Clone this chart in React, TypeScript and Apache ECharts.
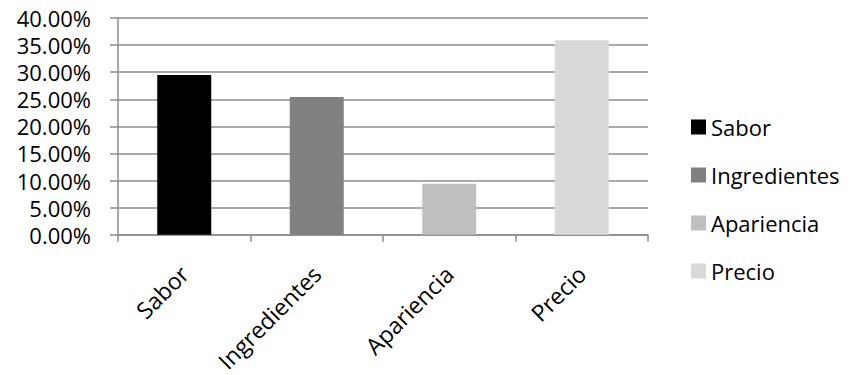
import React, { useEffect, useRef } from "react";
import * as echarts from "echarts";

// Share of responses per attribute (percent)
const categories = ["Sabor", "Ingredientes", "Apariencia", "Precio"];
const values = [29.5, 25.4, 9.4, 35.9];
const colors = ["#000000", "#808080", "#bfbfbf", "#d9d9d9"];
const yTicks = { min: 0, max: 40, interval: 5 };

const FONT = "'Open Sans', 'Liberation Sans', sans-serif";

export default function App() {
  const ref = useRef<HTMLDivElement>(null);

  useEffect(() => {
    if (!ref.current) return;
    const chart = echarts.init(ref.current, undefined, { renderer: "svg" });

    // one series per category so each bar gets its own legend entry;
    // stacked on a shared key so every bar stays centred on its category
    const series = categories.map((name, i) => ({
      name,
      type: "bar" as const,
      stack: "total",
      barWidth: 54,
      itemStyle: { color: colors[i] },
      data: categories.map((_, j) => (j === i ? values[i] : "-")),
    }));

    chart.setOption({
      animation: false,
      backgroundColor: "#ffffff",
      textStyle: { fontFamily: FONT },
      grid: { left: 118, right: 205, top: 18, bottom: 140, containLabel: false },
      legend: {
        orient: "vertical",
        left: 686,
        top: 110,
        icon: "rect",
        itemWidth: 15,
        itemHeight: 15,
        itemGap: 24,
        data: categories,
        textStyle: { fontFamily: FONT, fontSize: 22, color: "#000000", lineHeight: 24 },
      },
      xAxis: {
        type: "category",
        data: categories,
        axisLine: { show: true, lineStyle: { color: "#8c8c8c", width: 1.5 } },
        axisTick: { show: true, alignWithLabel: false, length: 7, lineStyle: { color: "#8c8c8c", width: 1.5 } },
        axisLabel: {
          rotate: 45,
          interval: 0,
          margin: 35,
          fontFamily: FONT,
          fontSize: 23,
          color: "#000000",
        },
        splitLine: { show: false },
      },
      yAxis: {
        type: "value",
        min: yTicks.min,
        max: yTicks.max,
        interval: yTicks.interval,
        axisLine: { show: true, lineStyle: { color: "#8c8c8c", width: 1.5 } },
        axisTick: { show: true, length: 8, lineStyle: { color: "#8c8c8c", width: 1.5 } },
        axisLabel: {
          margin: 27,
          fontFamily: FONT,
          fontSize: 22,
          color: "#000000",
          formatter: (v: number) => v.toFixed(2) + "%",
        },
        splitLine: { show: true, lineStyle: { color: "#8c8c8c", width: 1.5 } },
      },
      series,
    });

    return () => chart.dispose();
  }, []);

  return <div ref={ref} style={{ width: 853, height: 375, position: "absolute", left: 0, top: 0 }} />;
}
